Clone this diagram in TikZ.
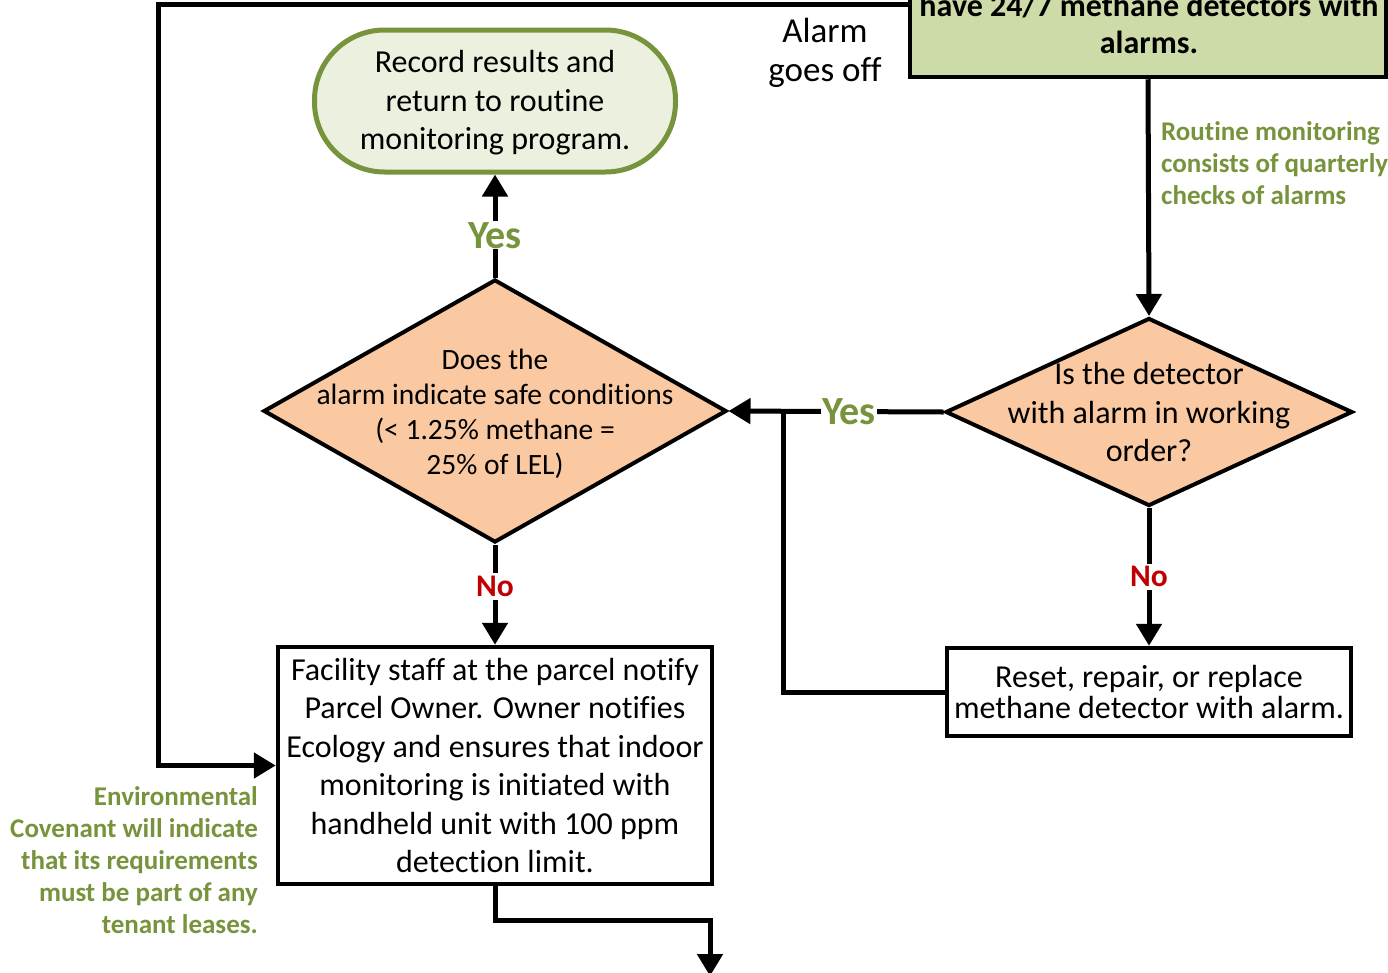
\documentclass[tikz,border=0pt]{standalone}
\usepackage{fontspec}
\setmainfont{Carlito}[Ligatures=NoCommon]
\usetikzlibrary{arrows.meta,shapes.geometric}
\definecolor{olive}{RGB}{119,147,60}
\definecolor{palegreen}{RGB}{235,241,222}
\definecolor{boxgreen}{RGB}{204,219,168}
\definecolor{peach}{RGB}{250,201,162}
\definecolor{noRed}{RGB}{192,0,0}
\tikzset{
  conn/.style={line width=5pt, line join=miter},
  arr/.style={conn, -{Triangle[length=22pt,width=25pt]}},
  txt/.style={font=\fontsize{32}{38.5}\selectfont, align=center, inner sep=0pt},
  box/.style={draw, line width=4.5pt, fill=white, inner sep=0pt},
  decision/.style={diamond, draw, line width=4pt, fill=peach, inner sep=0pt},
  yeslab/.style={fill=white, text=olive, font=\bfseries\fontsize{40}{44}\selectfont, inner sep=1pt},
  nolab/.style={fill=white, text=noRed, font=\bfseries\fontsize{31.5}{36}\selectfont, inner sep=3pt},
  note/.style={text=olive, font=\bfseries\fontsize{27}{32}\selectfont, inner sep=0pt},
}
\begin{document}
\begin{tikzpicture}[x=1pt, y=-1pt]
\useasboundingbox (0,0) rectangle (1388,972);

% top box (its upper part runs past the top edge)
\node[box, fill=boxgreen, minimum width=476pt, minimum height=140pt] (top) at (1148,7) {};
\node[txt, font=\bfseries\fontsize{32}{37}\selectfont] at (1149,24) {have 24/7 methane detectors with\\alarms.};

\node[txt, font=\fontsize{35}{39}\selectfont] (alarm) at (825,53) {Alarm\\goes off};

% rounded terminal
\node[draw=olive, line width=5pt, fill=palegreen, rounded corners=70pt,
      minimum width=361pt, minimum height=142pt, txt] (rec) at (495,101) {};
\node[txt] at (495,103) {Record results and\\return to routine\\monitoring program.};

% decisions
\node[decision, minimum width=463pt, minimum height=263pt] (d1) at (495,411) {};
\node[txt, font=\fontsize{29.5}{35}\selectfont] at (495,414)
  {Does the\\alarm indicate safe conditions\\(< 1.25\% methane =\\25\% of LEL)};

\node[decision, minimum width=407pt, minimum height=188pt] (d2) at (1149,412) {};
\node[txt] at (1149,412) {Is the detector\\with alarm in working\\order?};

% action boxes
\node[box, minimum width=434pt, minimum height=237pt, txt] (fac) at (495,765.5)
  {Facility staff at the parcel notify\\Parcel Owner. Owner notifies\\Ecology and ensures that indoor\\monitoring is initiated with\\handheld unit with 100 ppm\\detection limit.};
\node[box, minimum width=404pt, minimum height=88pt, txt, font=\fontsize{32}{31}\selectfont] (fix) at (1149,692)
  {Reset, repair, or replace\\methane detector with alarm.};

% notes
\node[note, anchor=west, align=left] at (1161,163)
  {Routine monitoring\\consists of quarterly\\checks of alarms};
\node[note, anchor=east, align=right] at (258,860)
  {Environmental\\Covenant will indicate\\that its requirements\\must be part of any\\tenant leases.};

% connectors
\coordinate (corner) at (158,4);
\coordinate (j) at (783,411);
\coordinate (outflow) at (710,976);

\draw[arr] (top.west |- corner) -- (corner) |- (fac.west);
\draw[arr] (top.south) -- (d2.north);
\draw[arr] (d1.north) -- node[yeslab, pos=0.41] {Yes} (rec.south);
\draw[arr] (d1.south) -- node[nolab, pos=0.42] {No} (fac.north);
\draw[arr] (d2.west) -- node[yeslab, pos=0.44] {Yes} (d1.east);
\draw[arr] (d2.south) -- node[nolab, pos=0.5] {No} (fix.north);
\draw[conn] (fix.west) -| (j);
\draw[arr] (fac.south) -- (495,920) -| (outflow);
\end{tikzpicture}
\end{document}
